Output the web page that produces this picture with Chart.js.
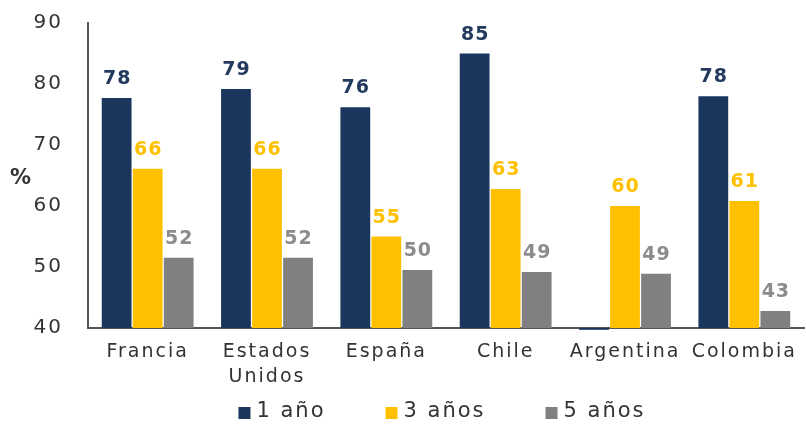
<!DOCTYPE html>
<html><head><meta charset="utf-8">
<script src="https://cdn.jsdelivr.net/npm/chart.js@4"></script>
<style>html,body{margin:0;padding:0;background:#fff}#wrap{width:806px;height:424px}</style>
</head><body><div id="wrap"><canvas id="c"></canvas></div>
<script>
const categories = ['Francia', ['Estados', 'Unidos'], 'España', 'Chile', 'Argentina', 'Colombia'];
const seriesNames = ['1 año', '3 años', '5 años'];
const oneYear = [77.7, 79.2, 76.2, 85.0, 39.7, 78.0];
const threeYears = [66.1, 66.1, 55.0, 62.8, 60.0, 60.8];
const fiveYears = [51.5, 51.5, 49.5, 49.2, 48.9, 42.8];
const showLabel = [[true, true, true, true, false, true], [true,true,true,true,true,true], [true,true,true,true,true,true]];
const yTicks = [40, 50, 60, 70, 80, 90];

const colors = ['#1b365d', '#ffc000', '#808080'];
const labelColors = ['#243a5e', '#ffc000', '#8c8c8c'];
const FONT = '"DejaVu Sans", "Liberation Sans", sans-serif';
const TEXT = '#333333';

const labelPlugin = {
  id: 'valueLabels',
  beforeDraw(chart) {
    chart.ctx.letterSpacing = '2px';
  },
  afterDatasetsDraw(chart) {
    const ctx = chart.ctx;
    ctx.save();
    ctx.letterSpacing = '1px';
    ctx.font = 'bold 19px ' + FONT;
    ctx.textAlign = 'center';
    ctx.textBaseline = 'alphabetic';
    chart.data.datasets.forEach((ds, di) => {
      const meta = chart.getDatasetMeta(di);
      meta.data.forEach((el, i) => {
        if (!showLabel[di][i]) return;
        ctx.fillStyle = labelColors[di];
        ctx.fillText(String(Math.round(ds.data[i])), el.x + 0.5, el.y - 14);
      });
    });
    // "%" axis title, horizontal
    ctx.letterSpacing = '0px';
    ctx.font = 'bold 21px ' + FONT;
    ctx.fillStyle = TEXT;
    ctx.textAlign = 'left';
    ctx.textBaseline = 'middle';
    ctx.fillText('%', 10, 179);
    ctx.restore();
  },
  afterDraw(chart) {
    // legend built from the datasets
    const ctx = chart.ctx;
    const area = chart.chartArea;
    ctx.save();
    ctx.letterSpacing = '2px';
    ctx.font = '21px ' + FONT;
    ctx.textBaseline = 'middle';
    ctx.textAlign = 'left';
    const box = 12, gapBox = 6, gapItem = 60;
    const items = chart.data.datasets.map((ds, i) => ({ text: ds.label, color: colors[i], w: ctx.measureText(ds.label).width }));
    let total = 0;
    items.forEach((it, i) => { total += box + gapBox + it.w + (i < items.length - 1 ? gapItem : 0); });
    let x = (area.left + area.right) / 2 - total / 2 - 4;
    const y = 412;
    items.forEach(it => {
      ctx.fillStyle = it.color;
      ctx.fillRect(x, y - box / 2 + 1, box, box);
      x += box + gapBox;
      ctx.fillStyle = TEXT;
      ctx.fillText(it.text, x, y);
      x += it.w + gapItem;
    });
    ctx.restore();
  }
};

new Chart(document.getElementById('c'), {
  type: 'bar',
  data: {
    labels: categories,
    datasets: [
      { label: seriesNames[0], data: oneYear, backgroundColor: colors[0], base: 40, clip: false },
      { label: seriesNames[1], data: threeYears, backgroundColor: colors[1] },
      { label: seriesNames[2], data: fiveYears, backgroundColor: colors[2] }
    ]
  },
  options: {
    responsive: true,
    maintainAspectRatio: false,
    animation: false,
    layout: { padding: { top: 23, right: 2, left: 0, bottom: 0 } },
    datasets: { bar: { categoryPercentage: 0.78, barPercentage: 0.96 } },
    plugins: {
      legend: { display: false },
      tooltip: { enabled: false }
    },
    scales: {
      x: {
        afterFit(scale) { scale.height = 96; },
        grid: { display: false, drawTicks: false },
        border: { display: true, color: '#555555', width: 2 },
        ticks: { font: { family: FONT, size: 19, lineHeight: 1.3 }, color: TEXT, padding: 12, maxRotation: 0, autoSkip: false }
      },
      y: {
        min: 40, max: 90,
        afterBuildTicks(scale) { scale.ticks = yTicks.map(v => ({ value: v })); },
        afterFit(scale) { scale.width = 88; scale.paddingTop = 0; scale.paddingBottom = 0; },
        grid: { display: false, drawTicks: false },
        border: { display: true, color: '#555555', width: 2 },
        ticks: { font: { family: FONT, size: 20 }, color: TEXT, padding: 25 }
      }
    }
  },
  plugins: [labelPlugin]
});
</script>
</body></html>
